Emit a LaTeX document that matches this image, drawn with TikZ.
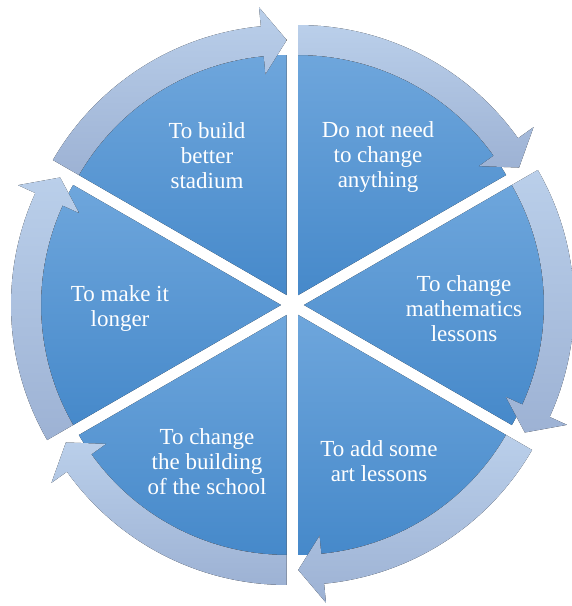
\documentclass[tikz,border=0pt]{standalone}
\usepackage{fontspec}
\setmainfont{Liberation Serif}
\newfontfamily\wedgefont{Liberation Serif}
\usetikzlibrary{positioning}

\definecolor{wedgetop}{HTML}{6EA6DC}
\definecolor{wedgebot}{HTML}{4689CA}
\definecolor{arrowtop}{HTML}{BACFEA}
\definecolor{arrowbot}{HTML}{9DB2D4}

\tikzset{
    wedge/.style={top color=wedgetop, bottom color=wedgebot},
    rimarrow/.style={top color=arrowtop, bottom color=arrowbot},
    wedgetext/.style={text=white, align=center, inner sep=0pt,
        font=\wedgefont\fontsize{23}{25}\selectfont}
}

\begin{document}
\begin{tikzpicture}[x=1pt, y=1pt]
        \useasboundingbox (-292.5,-301) rectangle (279.5,305);

        % Wedges, each pushed out along its middle line
        \foreach \a in {90,30,-30,-90,-150,150} {
            \begin{scope}[shift={(\a-30:11.5)}]
                \fill[wedge] (0,0) -- (\a:240)
                    arc[start angle=\a, end angle=\a-60, radius=240] -- cycle;
            \end{scope}
        }

        % Arrows round the rim
        \foreach \a in {90,30,-30,-90,-150,150} {
            \begin{scope}[shift={(\a-30:11.5)}]
                \fill[rimarrow] (\a:240) -- (\a:270)
                    arc[start angle=\a, end angle=\a-54.5, radius=270]
                    -- (\a-54.5:289) -- (\a-60:255) -- (\a-54.5:222)
                    -- (\a-54.5:240)
                    arc[start angle=\a-54.5, end angle=\a, radius=240] -- cycle;
            \end{scope}
        }

        % Text
        \node[wedgetext] (stadium) at (-85.5,149) {To build\\better\\stadium};
        \node[wedgetext] (nochange) at (85.5,148) {Do not need\\to change\\anything};
        \node[wedgetext] (maths) at (171.5,-4) {To change\\mathematics\\lessons};
        \node[wedgetext] (art) at (86.5,-156) {To add some\\art lessons};
        \node[wedgetext] (building) at (-85.5,-157) {To change\\the building\\of the school};
        \node[wedgetext] (longer) at (-172.5,-4) {To make it\\longer};
    \end{tikzpicture}
\end{document}
